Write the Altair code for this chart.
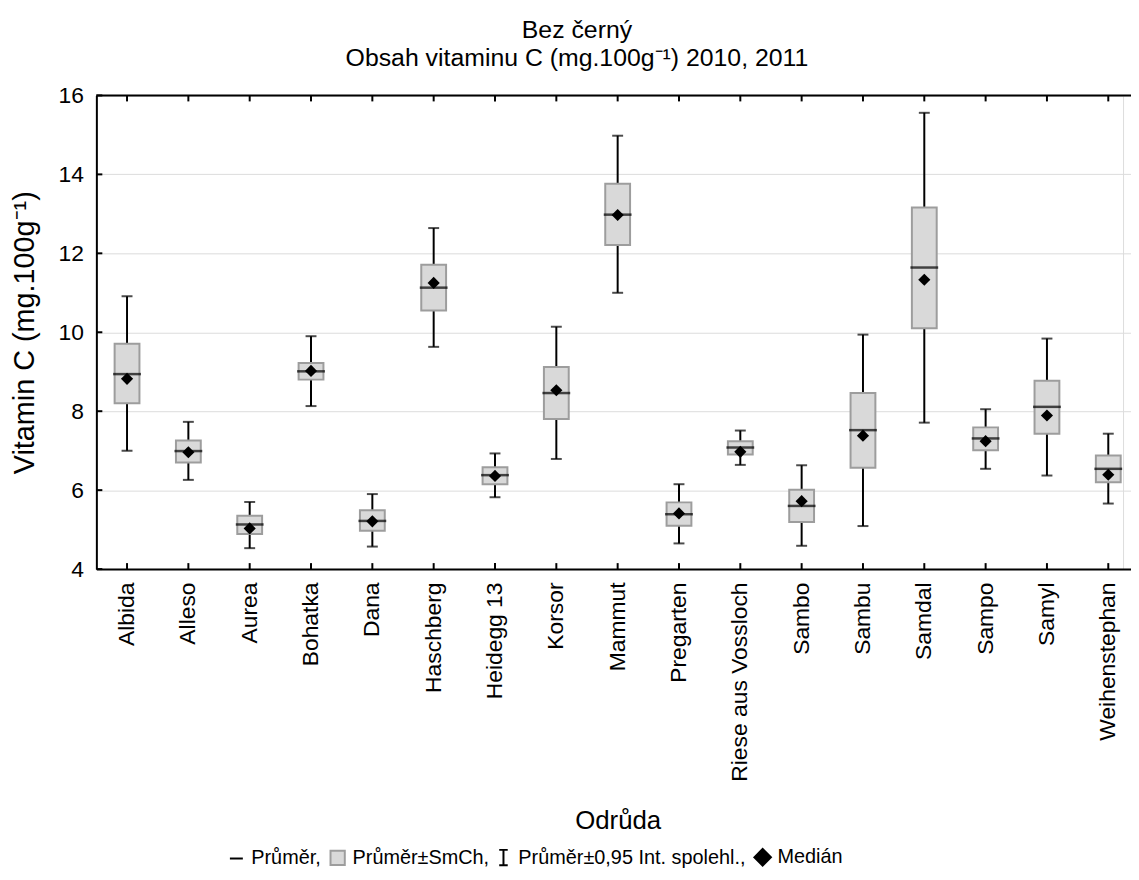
import altair as alt
import pandas as pd

categories = ["Albida", "Alleso", "Aurea", "Bohatka", "Dana", "Haschberg", "Heidegg 13",
              "Korsor", "Mammut", "Pregarten", "Riese aus Vossloch", "Sambo", "Sambu",
              "Samdal", "Sampo", "Samyl", "Weihenstephan"]
mean_vals = [8.94, 6.99, 5.13, 9.01, 5.22, 11.13, 6.38, 8.46, 12.98, 5.39, 7.08, 5.60, 7.52,
             11.64, 7.31, 8.11, 6.54]
median_vals = [8.82, 6.96, 5.03, 9.02, 5.21, 11.25, 6.36, 8.53, 12.97, 5.41, 6.97, 5.72, 7.38,
               11.33, 7.24, 7.89, 6.39]
se_low = [8.20, 6.70, 4.89, 8.80, 4.97, 10.55, 6.15, 7.80, 12.21, 5.10, 6.90, 5.19, 6.57,
          10.10, 7.01, 7.43, 6.20]
se_high = [9.71, 7.26, 5.35, 9.22, 5.49, 11.71, 6.58, 9.12, 13.76, 5.69, 7.24, 6.01, 8.46,
           13.16, 7.59, 8.77, 6.88]
ci_low = [7.00, 6.26, 4.53, 8.13, 4.57, 9.63, 5.82, 6.79, 11.00, 4.65, 6.64, 4.59, 5.09,
          7.71, 6.54, 6.37, 5.66]
ci_high = [10.91, 7.73, 5.70, 9.90, 5.90, 12.64, 6.93, 10.14, 14.98, 6.15, 7.51, 6.63, 9.94,
           15.56, 8.05, 9.84, 7.43]
y_ticks = [4, 6, 8, 10, 12, 14, 16]
legend_labels = ["Průměr,", "Průměr±SmCh,", "Průměr±0,95 Int. spolehl.,", "Medián"]

FONT = "Liberation Sans"
W, H = 1034, 477
RANGE_MAX = 1050

df = pd.DataFrame({
    "cat": categories, "mean": mean_vals, "median": median_vals,
    "se_low": se_low, "se_high": se_high, "ci_low": ci_low, "ci_high": ci_high,
})
ticks_df = pd.DataFrame({"v": y_ticks})
leg_df = pd.DataFrame({"leg": legend_labels})
one_df = pd.DataFrame({"k": [0]})

xscale = alt.Scale(domain=categories, range=[0, RANGE_MAX], paddingInner=0, paddingOuter=0)
yscale = alt.Scale(domain=[4, 16], nice=False, zero=False)

xenc = alt.X("cat:N", scale=xscale, sort=categories, title="Odrůda",
             axis=alt.Axis(labelAngle=270, labelFontSize=23, labelPadding=13, ticks=False,
                           labelLimit=400,
                           domain=True, domainColor="black", domainWidth=2, grid=False,
                           titleFontSize=26, titlePadding=40, titleFontWeight="normal",
                           labelFont=FONT, titleFont=FONT, labelColor="black", titleColor="black"))
ybase = alt.Axis(values=y_ticks, labelFontSize=23, labelPadding=13, ticks=False,
                 domain=True, domainColor="black", domainWidth=2, grid=True,
                 gridColor="#dcdcdc", gridWidth=1, titleFontSize=29, titlePadding=19,
                 titleFontWeight="normal", labelFont=FONT, titleFont=FONT,
                 labelColor="black", titleColor="black")

base = alt.Chart(df)

whisker = base.mark_rule(color="black", strokeWidth=2).encode(
    x=xenc,
    y=alt.Y("ci_low:Q", scale=yscale, axis=ybase, title="Vitamin C (mg.100g⁻¹)"),
    y2="ci_high:Q",
)
cap_low = base.mark_tick(color="black", size=11, thickness=2).encode(
    x=alt.X("cat:N", scale=xscale, sort=categories), y=alt.Y("ci_low:Q", scale=yscale))
cap_high = base.mark_tick(color="black", size=11, thickness=2).encode(
    x=alt.X("cat:N", scale=xscale, sort=categories), y=alt.Y("ci_high:Q", scale=yscale))
box = base.mark_bar(size=25, fill="#d9d9d9", stroke="#9d9d9d", strokeWidth=2).encode(
    x=alt.X("cat:N", scale=xscale, sort=categories),
    y=alt.Y("se_low:Q", scale=yscale), y2="se_high:Q")
mean_line = base.mark_tick(color="black", size=28, thickness=2.5).encode(
    x=alt.X("cat:N", scale=xscale, sort=categories), y=alt.Y("mean:Q", scale=yscale))
median_pt = base.mark_point(shape="diamond", filled=True, color="black", size=150, opacity=1).encode(
    x=alt.X("cat:N", scale=xscale, sort=categories), y=alt.Y("median:Q", scale=yscale))

# inward tick marks
ytick_marks = alt.Chart(ticks_df).mark_rule(color="black", strokeWidth=2).encode(
    y=alt.Y("v:Q", scale=yscale), x=alt.value(0), x2=alt.value(6))
bottom_ticks = base.mark_rule(color="black", strokeWidth=2).encode(
    x=alt.X("cat:N", scale=xscale, sort=categories), y=alt.value(H), y2=alt.value(H - 6))
top_ticks = base.mark_rule(color="black", strokeWidth=2).encode(
    x=alt.X("cat:N", scale=xscale, sort=categories), y=alt.value(0), y2=alt.value(6))
top_border = alt.Chart(one_df).mark_rule(color="black", strokeWidth=2).encode(
    y=alt.value(0), x=alt.value(0), x2=alt.value(RANGE_MAX))


def leg():
    return alt.Legend(title=None, orient="none", legendX=131, legendY=757,
                      direction="horizontal", labelFontSize=20, labelFont=FONT,
                      labelColor="black", labelLimit=400, labelOffset=5,
                      columnPadding=4, symbolStrokeWidth=2, symbolOpacity=1)


ibeam = "M-0.55,-1H0.55M0,-1V1M-0.55,1H0.55"
legend_layer = alt.Chart(leg_df).mark_point(filled=True, opacity=0, strokeWidth=2).encode(
    shape=alt.Shape("leg:N", scale=alt.Scale(domain=legend_labels,
                                             range=["stroke", "square", ibeam, "diamond"]),
                    legend=leg()),
    fill=alt.Fill("leg:N", scale=alt.Scale(domain=legend_labels,
                                           range=["transparent", "#d9d9d9", "transparent", "black"]),
                  legend=leg()),
    stroke=alt.Stroke("leg:N", scale=alt.Scale(domain=legend_labels,
                                               range=["black", "#9d9d9d", "black", "black"]),
                      legend=leg()),
    size=alt.Size("leg:N", scale=alt.Scale(domain=legend_labels, range=[170, 280, 340, 120]),
                  legend=leg()),
)

chart = alt.layer(
    whisker, cap_low, cap_high, box, mean_line, median_pt,
    ytick_marks, bottom_ticks, top_ticks, top_border, legend_layer,
).properties(
    width=W, height=H,
    title=alt.Title(["Bez černý", "Obsah vitaminu C (mg.100g⁻¹) 2010, 2011"],
                    fontSize=25, fontWeight="normal", font=FONT, color="black",
                    lineHeight=28, anchor="middle", frame="group", dx=-33, offset=14),
    autosize=alt.AutoSizeParams(type="none"),
    padding={"left": 89, "top": 85, "right": 8, "bottom": 300},
).configure_view(stroke=None).configure(background="white")

chart.save("out.html", embed_options={"renderer": "svg", "actions": False})
